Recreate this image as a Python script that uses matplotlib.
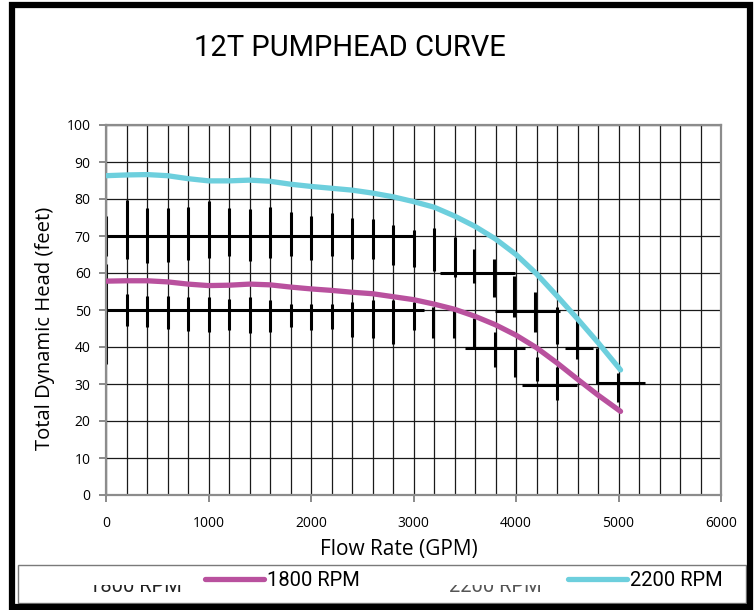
import matplotlib
matplotlib.use("Agg")
import matplotlib.pyplot as plt
from matplotlib.patches import Rectangle

plt.rcParams['font.family'] = ['Open Sans', 'DejaVu Sans']

# pump curves (flow in GPM, head in feet)
flow_2200 = [0, 200, 400, 600, 800, 1000, 1200, 1400, 1600, 1800, 2000, 2200, 2400,
             2600, 2800, 3000, 3200, 3400, 3600, 3800, 4000, 4200, 4400, 4600, 4800, 5020]
head_2200 = [86.3, 86.5, 86.6, 86.3, 85.5, 84.9, 84.9, 85.1, 84.8, 84.0, 83.4, 82.9, 82.4,
             81.6, 80.6, 79.3, 77.8, 75.4, 72.6, 69.2, 65.0, 59.8, 53.8, 47.6, 41.2, 33.8]
flow_1800 = [0, 200, 400, 600, 800, 1000, 1200, 1400, 1600, 1800, 2000, 2200, 2400,
             2600, 2800, 3000, 3200, 3400, 3600, 3800, 4000, 4200, 4400, 4600, 4800, 5020]
head_1800 = [57.8, 57.9, 57.9, 57.6, 57.0, 56.6, 56.7, 57.0, 56.8, 56.2, 55.7, 55.3, 54.8,
             54.4, 53.6, 52.8, 51.6, 50.2, 48.3, 46.0, 43.2, 39.8, 35.7, 31.3, 27.0, 22.6]

# hand-drawn marks over the grid: vertical strokes (x, low, high)
vmark_x = [0, 200, 400, 600, 800, 1000, 1200, 1400, 1600, 1800, 2000, 2200, 2400, 2600,
           2800, 3000, 3200, 3400, 3590, 3790, 3985, 4185, 4400,
           0, 200, 400, 600, 800, 1000, 1200, 1400, 1600, 1800, 2000, 2200, 2400, 2600,
           2800, 3000, 3190, 3395, 3590, 3795, 3990, 4200, 4400, 4591, 4792, 4997]
vmark_lo = [64.7, 63.8, 62.7, 62.9, 63.5, 64.1, 64.7, 63.2, 64.0, 64.7, 63.5, 64.7, 63.8, 63.8,
            62.2, 61.5, 60.6, 58.8, 57.3, 53.5, 48.0, 44.0, 40.9,
            35.5, 45.8, 45.4, 44.9, 44.3, 44.0, 44.7, 43.9, 44.0, 45.4, 44.7, 44.9, 42.7, 42.5,
            40.9, 44.7, 42.3, 42.3, 39.6, 34.6, 31.9, 30.9, 25.6, 36.8, 30.1, 25.2]
vmark_hi = [75.5, 79.7, 77.7, 77.7, 77.8, 79.5, 77.7, 77.3, 77.8, 76.5, 75.5, 76.3, 74.9, 74.6,
            72.9, 71.5, 72.1, 69.7, 66.5, 63.8, 59.3, 54.8, 50.8,
            62.4, 54.4, 53.9, 53.9, 53.5, 53.5, 53.0, 53.5, 52.6, 51.7, 51.7, 51.7, 52.1, 52.6,
            52.6, 52.1, 50.8, 49.9, 47.8, 44.0, 39.9, 37.3, 34.6, 47.2, 39.6, 33.1]
# horizontal strokes (y, x start, x end)
hmark_y = [70, 50, 60, 49.7, 39.8, 39.7, 29.6, 30.3]
hmark_x0 = [0, 0, 3258, 3795, 3502, 4477, 4055, 4792]
hmark_x1 = [3000, 3100, 3990, 4428, 4087, 4753, 4591, 5257]

W, H = 754, 610
fig = plt.figure(figsize=(W / 100, H / 100), dpi=100)
ax = fig.add_axes([106 / W, 115 / H, 615 / W, 370 / H])

ax.set_xlim(0, 6000)
ax.set_ylim(0, 100)
ax.set_xticks(range(0, 6001, 1000))
ax.set_xticks(range(0, 6001, 200), minor=True)
ax.set_yticks(range(0, 101, 10))
ax.grid(which='both', axis='x', color='#1a1a1a', lw=0.9)
ax.grid(which='major', axis='y', color='#1a1a1a', lw=0.9)
ax.set_axisbelow(True)
ax.tick_params(axis='both', which='major', direction='out', length=5, width=1.2,
               color='#777777', labelsize=10)
ax.tick_params(axis='x', which='major', pad=10)
ax.tick_params(axis='y', which='major', pad=6)
ax.tick_params(axis='x', which='minor', length=0)
for s in ax.spines.values():
    s.set_color('#8c8c8c')
    s.set_linewidth(1.6)

ax.vlines(vmark_x, vmark_lo, vmark_hi, color='black', lw=2.2, zorder=2)
ax.hlines(hmark_y, hmark_x0, hmark_x1, color='black', lw=2.2, zorder=2)

l1800, = ax.plot(flow_1800, head_1800, color='#b9519e', lw=3.8,
                 solid_capstyle='round', solid_joinstyle='round', zorder=3, label='1800 RPM')
l2200, = ax.plot(flow_2200, head_2200, color='#6dcfdd', lw=3.8,
                 solid_capstyle='round', solid_joinstyle='round', zorder=3, label='2200 RPM')

ax.set_xlabel('Flow Rate (GPM)', fontsize=15)
ax.set_ylabel('Total Dynamic Head (feet)', fontsize=14.6)
ax.xaxis.set_label_coords(0.476, -0.146)
ax.yaxis.set_label_coords(-0.099, 0.451)
ax.xaxis.label.set_va('center')
ax.yaxis.label.set_va('center')

fig.text(350 / W, 1 - 48 / H, '12T PUMPHEAD CURVE', ha='center', va='center',
         fontsize=21, family=['Roboto', 'DejaVu Sans'])

# legend frame and entries
fig.patches.append(Rectangle((18 / W, 7 / H), 728 / W, 38 / H, transform=fig.transFigure,
                             fill=False, edgecolor='#7a7a7a', lw=1.0))
for h, x0 in [(l1800, 205), (l2200, 568)]:
    fig.legend(handles=[h], loc='center left', bbox_to_anchor=(x0 / W, 29 / H),
               frameon=False, borderpad=0, borderaxespad=0, handlelength=2.95,
               handletextpad=0.15, prop={'family': ['Roboto', 'DejaVu Sans'], 'size': 14.5})

# ghost labels inside the legend box, top part hidden
for lab, x0, col in [('1800 RPM', 89, '#222222'), ('2200 RPM', 449, '#555555')]:
    fig.text(x0 / W, 18 / H, lab, ha='left', va='baseline', fontsize=14.5, color=col,
             family=['Roboto', 'DejaVu Sans'], zorder=3)
    fig.add_artist(Rectangle(((x0 - 6) / W, 25 / H), 112 / W, 17 / H,
                             transform=fig.transFigure, facecolor='white',
                             edgecolor='none', zorder=4))

# outer black frame
fig.patches.append(Rectangle((12 / W, 3.5 / H), 738 / W, 602 / H, transform=fig.transFigure,
                             fill=False, edgecolor='black', lw=4.5))

fig.savefig('out.png', dpi=100)
